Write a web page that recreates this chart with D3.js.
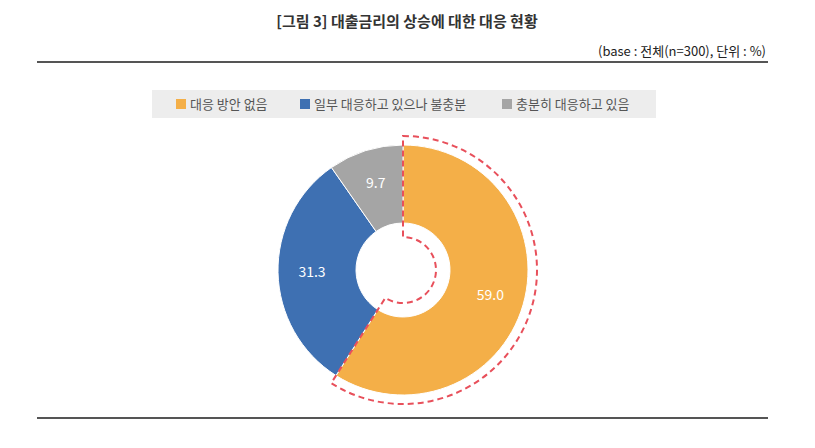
<!DOCTYPE html>
<html><head><meta charset="utf-8">
<script src="https://cdn.jsdelivr.net/npm/d3@7"></script>
<style>body{margin:0;background:#fff;font-family:"Noto Sans CJK KR","Noto Sans",sans-serif}</style>
</head><body><svg id="chart" width="815" height="448"></svg>
<script>
var categories = ["대응 방안 없음", "일부 대응하고 있으나 불충분", "충분히 대응하고 있음"];
var values = [59.0, 31.3, 9.7];
var colors = ["#F4AF48", "#3E70B2", "#A5A5A5"];

var svg = d3.select("#chart");
svg.append("text").attr("x", 407).attr("y", 27).attr("text-anchor", "middle")
  .attr("font-size", 15).attr("font-weight", "bold").attr("fill", "#333")
  .text("[그림 3] 대출금리의 상승에 대한 대응 현황");
svg.append("text").attr("x", 766).attr("y", 56).attr("text-anchor", "end")
  .attr("font-size", 13).attr("fill", "#222").text("(base : 전체(n=300), 단위 : %)");
svg.append("line").attr("x1", 37).attr("x2", 768).attr("y1", 62).attr("y2", 62).attr("stroke", "#555").attr("stroke-width", 2);
svg.append("line").attr("x1", 37).attr("x2", 768).attr("y1", 418).attr("y2", 418).attr("stroke", "#555").attr("stroke-width", 2);

// legend
svg.append("rect").attr("x", 152).attr("y", 90).attr("width", 504).attr("height", 28).attr("fill", "#EDEDED");
var lx = [176, 300, 502];
var lg = svg.selectAll(".lg").data(categories).enter().append("g")
  .attr("transform", function (d, i) { return "translate(" + lx[i] + ",104)"; });
lg.append("rect").attr("x", 0).attr("y", -5).attr("width", 10).attr("height", 10).attr("fill", function (d, i) { return colors[i]; });
lg.append("text").attr("x", 14).attr("y", 5).attr("font-size", 13).attr("fill", "#555").text(function (d) { return d; });

var cx = 403, cy = 270, r0 = 47, r1 = 125;
var pie = d3.pie().sort(null).value(function (d) { return d; });
var arcs = pie(values);
var arc = d3.arc().innerRadius(r0).outerRadius(r1);
var g = svg.append("g").attr("transform", "translate(" + cx + "," + cy + ")");
g.selectAll("path").data(arcs).enter().append("path")
  .attr("d", arc).attr("fill", function (d, i) { return colors[i]; })
  .attr("stroke", "#fff").attr("stroke-width", 1);
var lab = d3.arc().innerRadius((r0 + r1) / 2 + 5).outerRadius((r0 + r1) / 2 + 5);
g.selectAll(".lbl").data(arcs).enter().append("text")
  .attr("transform", function (d) { return "translate(" + lab.centroid(d) + ")"; })
  .attr("text-anchor", "middle").attr("dy", "0.35em").attr("font-size", 14).attr("fill", "#fff")
  .text(function (d) { return d.data.toFixed(1); });

// dashed highlight around first slice
var hi = d3.arc().innerRadius(r0 - 14).outerRadius(r1 + 9);
g.append("path").attr("d", hi(arcs[0])).attr("fill", "none")
  .attr("stroke", "#E8505B").attr("stroke-width", 2).attr("stroke-dasharray", "6,4");
</script></body></html>
